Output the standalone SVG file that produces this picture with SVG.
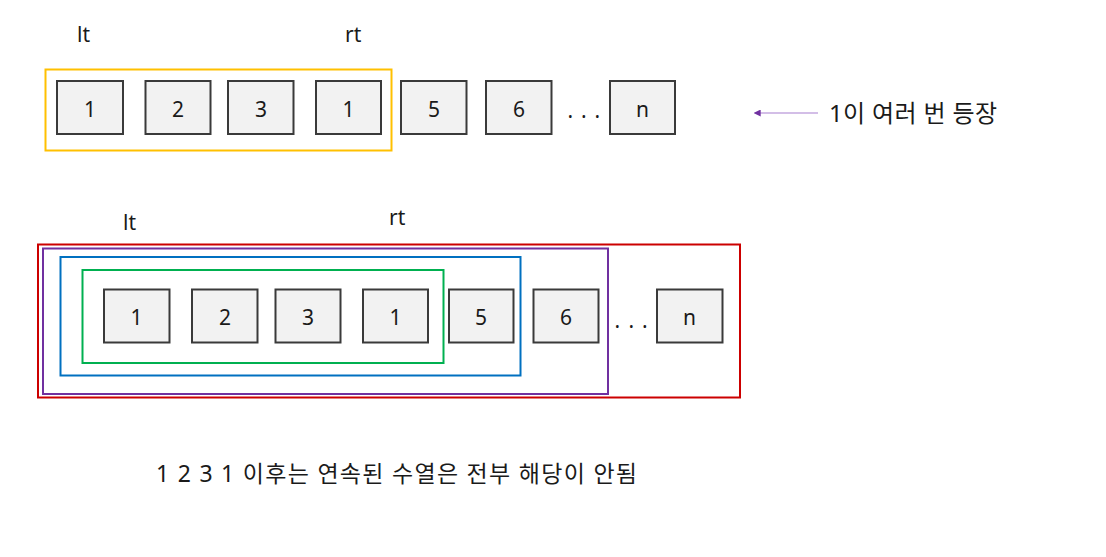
<svg xmlns="http://www.w3.org/2000/svg" width="1106" height="557" viewBox="0 0 1106 557">
<defs>
<style>
.t{font-family:"Noto Sans","Noto Sans CJK KR",sans-serif;fill:#1a1a1a}
.num{font-size:21px;text-anchor:middle}
.lbl{font-size:21px}
.box rect{fill:#f2f2f2;stroke:#3a3a3a;stroke-width:2}
.frame{fill:none;stroke-width:2}
</style>
<marker id="ah" viewBox="0 0 10 10" refX="1" refY="5" markerWidth="7" markerHeight="7" orient="auto-start-reverse" markerUnits="userSpaceOnUse">
<path d="M0,0 L10,5 L0,10 z" fill="#7030a0"/>
</marker>
</defs>
<rect width="1106" height="557" fill="#ffffff"/>

<!-- top row -->
<g id="top-labels">
<text class="t lbl" x="77" y="42">lt</text>
<text class="t lbl" x="345" y="42">rt</text>
</g>
<g id="top-frame"><rect class="frame" x="45.5" y="69.5" width="346" height="81" stroke="#ffc000"/></g>
<g id="t1" class="box"><rect x="57" y="81" width="66" height="53"/><text class="t num" x="90" y="116.5">1</text></g>
<g id="t2" class="box"><rect x="145.5" y="81" width="65" height="53"/><text class="t num" x="178" y="116.5">2</text></g>
<g id="t3" class="box"><rect x="228" y="81" width="65.5" height="53"/><text class="t num" x="261" y="116.5">3</text></g>
<g id="t4" class="box"><rect x="316" y="81" width="65" height="53"/><text class="t num" x="348.5" y="116.5">1</text></g>
<g id="t5" class="box"><rect x="401" y="81" width="65.5" height="53"/><text class="t num" x="434" y="116.5">5</text></g>
<g id="t6" class="box"><rect x="486" y="81" width="65.5" height="53"/><text class="t num" x="519" y="116.5">6</text></g>
<g id="tdots"><text class="t lbl" x="567.5 574 581 588 594.5" y="118">. . .</text></g>
<g id="tn" class="box"><rect x="610" y="81" width="65" height="53"/><text class="t num" x="642.5" y="116.5">n</text></g>
<g id="note"><text class="t" font-size="24" x="829" y="121.5" textLength="168" lengthAdjust="spacing">1이 여러 번 등장</text></g>

<g id="connectors">
<line x1="818" y1="113" x2="760" y2="113" stroke="#a77fd0" stroke-width="1.2" marker-end="url(#ah)"/>
</g>

<!-- bottom row -->
<g id="bottom-labels">
<text class="t lbl" x="123" y="230">lt</text>
<text class="t lbl" x="389" y="225">rt</text>
</g>
<g id="frame-red"><rect class="frame" x="38" y="244.5" width="702" height="153" stroke="#cc0000"/></g>
<g id="frame-purple"><rect class="frame" x="43" y="248.5" width="565" height="145.5" stroke="#7030a0"/></g>
<g id="frame-blue"><rect class="frame" x="60.5" y="257" width="460" height="118.5" stroke="#0070c0"/></g>
<g id="frame-green"><rect class="frame" x="82.5" y="270" width="361" height="93" stroke="#00b050"/></g>
<g id="b1" class="box"><rect x="104" y="289.5" width="65.5" height="53"/><text class="t num" x="136.5" y="324.5">1</text></g>
<g id="b2" class="box"><rect x="192" y="289.5" width="65.5" height="53"/><text class="t num" x="225" y="324.5">2</text></g>
<g id="b3" class="box"><rect x="275.5" y="289.5" width="65" height="53"/><text class="t num" x="308" y="324.5">3</text></g>
<g id="b4" class="box"><rect x="363" y="289.5" width="65" height="53"/><text class="t num" x="395.5" y="324.5">1</text></g>
<g id="b5" class="box"><rect x="449" y="289.5" width="64.5" height="53"/><text class="t num" x="481" y="324.5">5</text></g>
<g id="b6" class="box"><rect x="533.5" y="289.5" width="65" height="53"/><text class="t num" x="566" y="324.5">6</text></g>
<g id="bdots"><text class="t lbl" x="614.5 621 628.5 635 642" y="327.5">. . .</text></g>
<g id="bn" class="box"><rect x="657" y="289.5" width="65.5" height="53"/><text class="t num" x="689.5" y="324.5">n</text></g>

<g id="caption"><text class="t" font-size="23" x="156" y="482" textLength="481" lengthAdjust="spacing">1 2 3 1 이후는 연속된 수열은 전부 해당이 안됨</text></g>
</svg>
